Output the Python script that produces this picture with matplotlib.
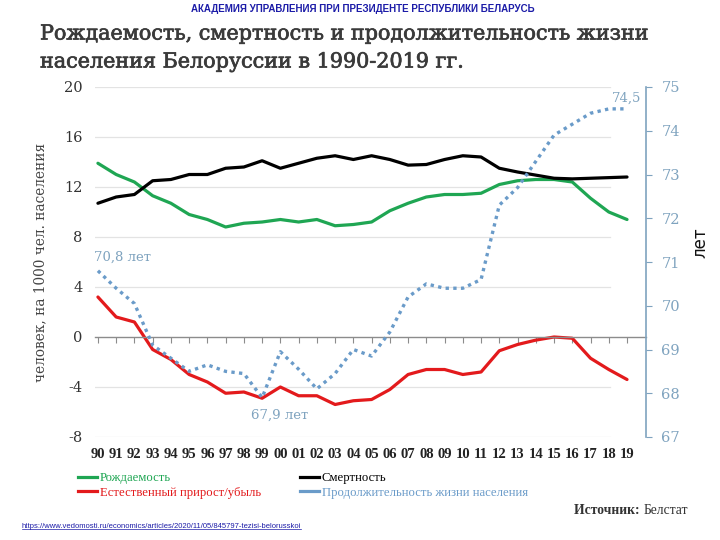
import numpy as np
import matplotlib
matplotlib.use('Agg')
import matplotlib.pyplot as plt
from matplotlib.lines import Line2D
import matplotlib.patheffects as pe

plt.rcParams['axes.unicode_minus'] = False

# Data (per 1000 people, and years for life expectancy)
year_labels = ['90', '91', '92', '93', '94', '95', '96', '97', '98', '99',
               '00', '01', '02', '03', '04', '05', '06', '07', '08', '09',
               '10', '11', '12', '13', '14', '15', '16', '17', '18', '19']
birth_rate = [13.9, 13.0, 12.4, 11.3, 10.7, 9.8, 9.4, 8.8, 9.1, 9.2,
              9.4, 9.2, 9.4, 8.9, 9.0, 9.2, 10.1, 10.7, 11.2, 11.4,
              11.4, 11.5, 12.2, 12.5, 12.6, 12.6, 12.4, 11.1, 10.0, 9.4]
death_rate = [10.7, 11.2, 11.4, 12.5, 12.6, 13.0, 13.0, 13.5, 13.6, 14.1,
              13.5, 13.9, 14.3, 14.5, 14.2, 14.5, 14.2, 13.75, 13.8, 14.2,
              14.5, 14.4, 13.5, 13.2, 12.95, 12.7, 12.65, 12.7, 12.75, 12.8]
natural_growth = [3.2, 1.6, 1.2, -1.0, -1.8, -3.0, -3.6, -4.5, -4.4, -4.9,
                  -4.0, -4.7, -4.7, -5.4, -5.1, -5.0, -4.2, -3.0, -2.6, -2.6,
                  -3.0, -2.8, -1.1, -0.6, -0.25, 0.0, -0.1, -1.7, -2.6, -3.4]
life_expectancy = [70.8, 70.4, 70.05, 69.1, 68.8, 68.5, 68.65, 68.5, 68.45, 67.9,
                   68.95, 68.55, 68.1, 68.45, 69.0, 68.85, 69.4, 70.2, 70.5, 70.4,
                   70.4, 70.6, 72.3, 72.7, 73.3, 73.9, 74.15, 74.4, 74.5, 74.5]
left_ticks = [-8, -4, 0, 4, 8, 12, 16, 20]
right_ticks = [67, 68, 69, 70, 71, 72, 73, 74, 75]

GREEN = '#1fa653'
RED = '#e31a1c'
BLACK = '#000000'
BLUE = '#6a9bc9'
AXBLUE = '#7fa3bf'
SERIF = 'DejaVu Serif'

x = np.arange(len(year_labels))

fig = plt.figure(figsize=(7.2, 5.4), dpi=100)
ax = fig.add_axes([95 / 720, 1 - 437 / 540, 551 / 720, 350 / 540])
ax.set_xlim(-0.16, 30.04)
ax.set_ylim(-8, 20)

# light grid, stops short of the right axis
for v in left_ticks:
    if v != 0:
        ax.axhline(v, xmax=0.935, color='#e3e3e3', lw=0.9, zorder=0)

for s in ['top', 'right', 'left']:
    ax.spines[s].set_visible(False)
ax.spines['bottom'].set_position(('data', 0))
ax.spines['bottom'].set_color('#8c8c8c')
ax.spines['bottom'].set_linewidth(1.0)
ax.set_xticks(x)
ax.tick_params(axis='x', direction='out', length=4, color='#8c8c8c',
               labelbottom=False)
ax.set_yticks(left_ticks)
ax.tick_params(axis='y', length=0, pad=9, labelsize=10.5, labelcolor='#333333')
for lab in ax.get_yticklabels():
    lab.set_family(SERIF)

ax.plot(x, birth_rate, color=GREEN, lw=2.3, solid_capstyle='round')
ax.plot(x, death_rate, color=BLACK, lw=2.3, solid_capstyle='round')
ax.plot(x, natural_growth, color=RED, lw=2.3, solid_capstyle='round')

ax.set_ylabel('человек, на 1000 чел. населения', family=SERIF, fontsize=9.8,
              color='#444444', labelpad=12)

# year labels under the plot
sec = ax.secondary_xaxis(0)
sec.set_xticks(x, year_labels)
sec.spines['bottom'].set_visible(False)
sec.tick_params(length=0, pad=8)
for lab in sec.get_xticklabels():
    lab.set_family('Liberation Serif')
    lab.set_fontweight('bold')
    lab.set_fontsize(10.5)
    lab.set_color('#222222')

# right axis: life expectancy
ax2 = ax.twinx()
ax2.set_ylim(67, 75)
for s in ['top', 'left', 'bottom']:
    ax2.spines[s].set_visible(False)
ax2.spines['right'].set_color(AXBLUE)
ax2.spines['right'].set_linewidth(1.2)
ax2.set_yticks(right_ticks)
ax2.tick_params(axis='y', direction='out', length=4, color=AXBLUE,
                labelcolor=AXBLUE, labelsize=10.5, pad=7)
for lab in ax2.get_yticklabels():
    lab.set_family(SERIF)
ax2.plot(x, life_expectancy, color=BLUE, lw=2.4, linestyle=(0, (1, 1.3)))
ax2.set_ylabel('лет', family='DejaVu Sans', fontsize=12, color='#111111')
ax2.yaxis.set_label_coords(1.083, 0.555)

ax2.annotate('70,8 лет', xy=(x[0], life_expectancy[0]), xytext=(-3, 5),
             textcoords='offset points', ha='left', va='bottom',
             family=SERIF, fontsize=9.5, color=AXBLUE)
ax2.annotate('67,9 лет', xy=(x[9], life_expectancy[9]), xytext=(-8, -8),
             textcoords='offset points', ha='left', va='top',
             family=SERIF, fontsize=9.5, color=AXBLUE)
ax2.annotate('74,5', xy=(x[-1], life_expectancy[-1]), xytext=(10, 3),
             textcoords='offset points', ha='right', va='bottom',
             family=SERIF, fontsize=9.5, color=AXBLUE)

# legend
handles = [Line2D([], [], color=GREEN, lw=2.3),
           Line2D([], [], color=RED, lw=2.3),
           Line2D([], [], color=BLACK, lw=2.3),
           Line2D([], [], color=BLUE, lw=2.3)]
names = ['Рождаемость', 'Естественный прирост/убыль',
         'Смертность', 'Продолжительность жизни населения']
fig.legend(handles, names, ncol=2, loc='upper left',
           bbox_to_anchor=(78 / 720, 1 - 472 / 540), frameon=False,
           prop={'family': 'Liberation Serif', 'size': 9.2},
           labelcolor=[GREEN, RED, BLACK, BLUE], handlelength=1.5,
           handletextpad=0.2, columnspacing=3.05, labelspacing=0.2,
           borderpad=0, borderaxespad=0)

# header and title
fig.text(363 / 720, 1 - 9 / 540, 'АКАДЕМИЯ УПРАВЛЕНИЯ ПРИ ПРЕЗИДЕНТЕ РЕСПУБЛИКИ БЕЛАРУСЬ',
         ha='center', va='center', family='Liberation Sans', fontweight='bold',
         fontsize=7, color='#1c1ca8')
fig.text(40 / 720, 1 - 48 / 540,
         'Рождаемость, смертность и продолжительность жизни\n'
         'населения Белоруссии в 1990-2019 гг.',
         ha='left', va='center', family=SERIF, fontsize=14.9,
         color='#3a3a3a', linespacing=1.6,
         path_effects=[pe.withStroke(linewidth=0.5, foreground='#3a3a3a')])

# source and link
src = fig.text(688 / 720, 1 - 511 / 540, 'Белстат', ha='right', va='center',
               family='Liberation Serif', fontsize=9.8, color='#333333')
plt.annotate('Источник: ', xy=(0, 0), xycoords=src, ha='right', va='bottom',
             family='Liberation Serif', fontweight='bold', fontsize=9.8,
             color='#333333', annotation_clip=False)
url = fig.text(22 / 720, 1 - 526 / 540,
               'https://www.vedomosti.ru/economics/articles/2020/11/05/845797-tezisi-belorusskoi',
               ha='left', va='center', family='Liberation Sans', fontsize=5.5,
               color='#1c1ca8')
fig.canvas.draw()
bb = url.get_window_extent()
fig.add_artist(Line2D([bb.x0, bb.x1], [bb.y0 + 0.5, bb.y0 + 0.5], transform=None,
                      color='#1c1ca8', lw=0.5))

fig.savefig('out.png', dpi=100)
